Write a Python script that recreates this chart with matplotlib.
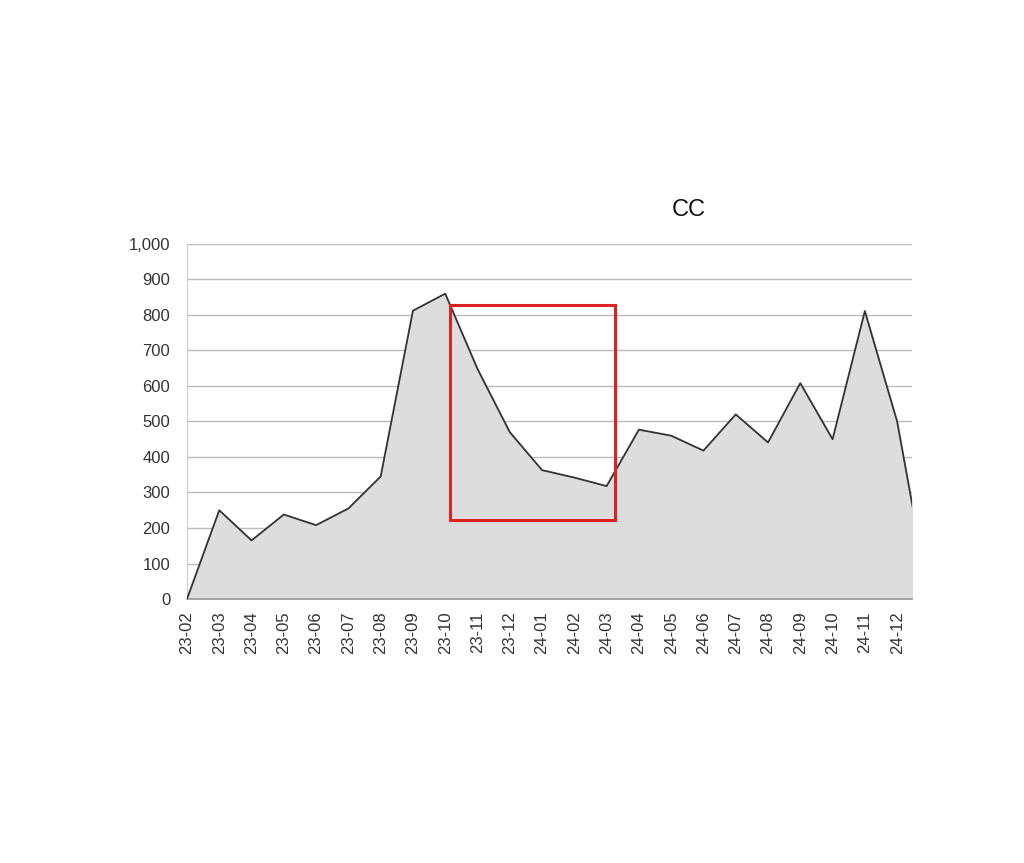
import matplotlib.pyplot as plt
from matplotlib.patches import Rectangle
from matplotlib.ticker import FuncFormatter

plt.rcParams['font.family'] = ['Liberation Sans', 'DejaVu Sans']

months = ['23-02', '23-03', '23-04', '23-05', '23-06', '23-07', '23-08', '23-09',
          '23-10', '23-11', '23-12', '24-01', '24-02', '24-03', '24-04', '24-05',
          '24-06', '24-07', '24-08', '24-09', '24-10', '24-11', '24-12', '25-01']
values = [0, 250, 165, 238, 208, 255, 345, 812,
          860, 648, 470, 363, 342, 318, 477, 460,
          418, 520, 441, 608, 450, 811, 500, 0]
y_ticks = [0, 100, 200, 300, 400, 500, 600, 700, 800, 900, 1000]

x = list(range(len(months)))

fig = plt.figure(figsize=(10.24, 8.63), dpi=100)
ax = fig.add_axes([0.1826, 0.3059, 0.708, 0.4114])

ax.fill_between(x, values, 0, color='#dddddd', zorder=2)
ax.plot(x, values, color='#333333', lw=1.3, zorder=3)

ax.set_xlim(0, 22.46)
ax.set_ylim(0, 1000)
ax.set_yticks(y_ticks)
ax.yaxis.set_major_formatter(FuncFormatter(lambda v, p: f'{int(v):,}'))
ax.set_xticks(x[:23])
ax.set_xticklabels(months[:23], rotation=90)
ax.grid(axis='y', color='#bbbbbb', lw=1, zorder=1)
ax.tick_params(length=0, labelsize=12, colors='#333333')
ax.tick_params(axis='y', pad=12)
ax.tick_params(axis='x', pad=9)

for s in ['top', 'right']:
    ax.spines[s].set_visible(False)
ax.spines['left'].set_color('#cccccc')
ax.spines['bottom'].set_color('#999999')
ax.spines['bottom'].set_linewidth(1.2)

# red highlight box around the 23-10 .. 24-03 decline
ax.add_patch(Rectangle((8.15, 222), 13.26 - 8.15, 828 - 222, fill=False,
                       edgecolor='#dd2222', lw=2.2, zorder=5, clip_on=False))

fig.text(0.673, 0.757, 'CC', fontsize=17, ha='center', va='center', color='#111111')

fig.savefig('out.png', dpi=100)
